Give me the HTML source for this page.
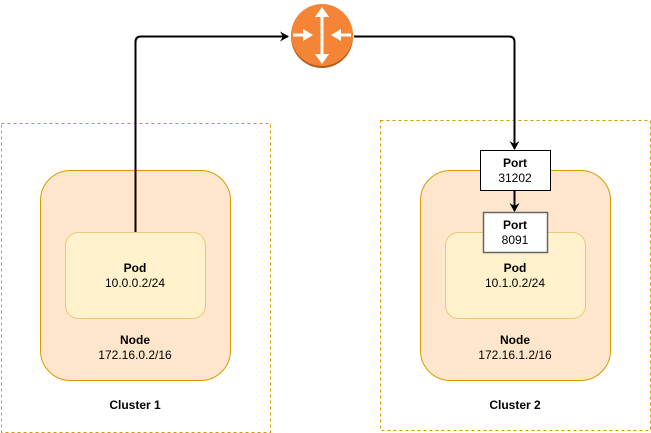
<!DOCTYPE html>
<html><head><meta charset="utf-8"><style>
html,body{margin:0;padding:0;background:#fff;width:651px;height:433px;overflow:hidden}
text{font-family:"Liberation Sans",sans-serif;font-size:12px;fill:#000}
.b{font-weight:bold}
</style></head><body>
<svg width="651" height="433" xmlns="http://www.w3.org/2000/svg">
<defs>
<marker id="ah" markerWidth="10" markerHeight="10" refX="8" refY="5" orient="auto" markerUnits="userSpaceOnUse">
<path d="M0,0 L9,5 L0,10 L3,5 Z" fill="#000"/></marker>
</defs>
<!-- clusters -->
<rect x="1.5" y="123.5" width="269" height="309" fill="none" stroke="#d79b00" stroke-dasharray="3,3"/>
<rect x="380.5" y="120.5" width="270" height="310" fill="none" stroke="#d79b00" stroke-dasharray="3,3"/>
<!-- nodes -->
<rect x="40.5" y="170.5" width="190" height="210" rx="30" fill="#ffe6cc" stroke="#d79b00"/>
<rect x="420.5" y="170.5" width="190" height="210" rx="30" fill="#ffe6cc" stroke="#d79b00"/>
<!-- pods -->
<rect x="65.5" y="232.5" width="140" height="86" rx="13" fill="#fff2cc" stroke="#e6c97a"/>
<rect x="445.5" y="232.5" width="140" height="86" rx="13" fill="#fff2cc" stroke="#e6c97a"/>
<!-- texts -->
<text x="135" y="272" text-anchor="middle" class="b">Pod</text>
<text x="135" y="287" text-anchor="middle">10.0.0.2/24</text>
<text x="135" y="344" text-anchor="middle" class="b">Node</text>
<text x="135" y="359" text-anchor="middle">172.16.0.2/16</text>
<text x="135" y="409" text-anchor="middle" class="b">Cluster 1</text>
<text x="515" y="272" text-anchor="middle" class="b">Pod</text>
<text x="515" y="287" text-anchor="middle">10.1.0.2/24</text>
<text x="515" y="344" text-anchor="middle" class="b">Node</text>
<text x="515" y="359" text-anchor="middle">172.16.1.2/16</text>
<text x="515" y="409" text-anchor="middle" class="b">Cluster 2</text>
<!-- ports -->
<rect x="480.5" y="150.5" width="70" height="40" fill="#fff" stroke="#000"/>
<text x="515" y="167" text-anchor="middle" class="b">Port</text>
<text x="515" y="182" text-anchor="middle">31202</text>
<rect x="483.5" y="212.5" width="64" height="40" fill="#fff" stroke="#666" stroke-width="1.5"/>
<text x="515" y="229" text-anchor="middle" class="b">Port</text>
<text x="515" y="244" text-anchor="middle">8091</text>
<!-- connectors -->
<path d="M135.5,232 L135.5,42 Q135.5,36.5 141,36.5 L288,36.5" fill="none" stroke="#000" stroke-width="2" marker-end="url(#ah)"/>
<path d="M354,36.5 L509,36.5 Q514.5,36.5 514.5,42 L514.5,149" fill="none" stroke="#000" stroke-width="2" marker-end="url(#ah)"/>
<path d="M514.5,191 L514.5,211" fill="none" stroke="#000" stroke-width="2" marker-end="url(#ah)"/>
<!-- router -->
<circle cx="322" cy="37" r="31" fill="#b35a1a"/>
<circle cx="322" cy="35" r="31" fill="#f58536"/>
<g fill="#fff">
<rect x="320.5" y="14" width="3" height="44"/>
<path d="M322,7 L329,17 L315,17 Z"/>
<path d="M322,64 L329,54 L315,54 Z"/>
<rect x="293" y="33.5" width="10" height="3"/>
<path d="M313,35 L303,29 L303,41 Z"/>
<rect x="341" y="33.5" width="10" height="3"/>
<path d="M331,35 L341,29 L341,41 Z"/>
</g>
</svg>
</body></html>
